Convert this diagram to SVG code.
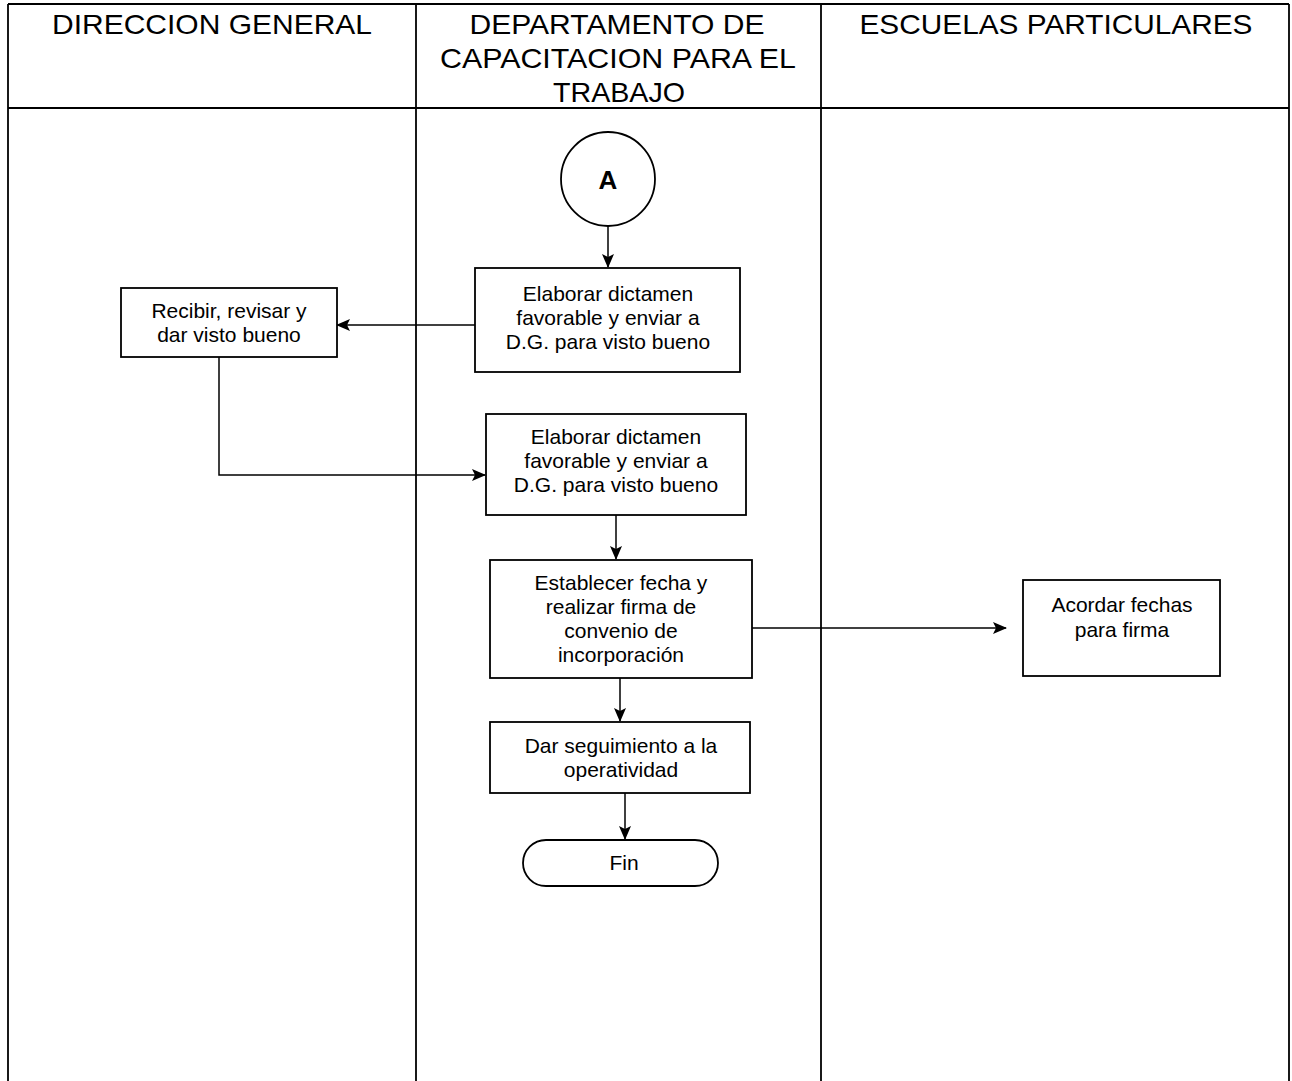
<svg xmlns="http://www.w3.org/2000/svg" width="1292" height="1081" viewBox="0 0 1292 1081">
  <style>
    .lane { stroke: #000; stroke-width: 1.8; fill: none; }
    .hdr { font-family: "Liberation Sans", Arial, sans-serif; font-size: 28px; fill: #000; text-anchor: middle; }
    .box { fill: #fff; stroke: #000; stroke-width: 1.8; }
    .txt { font-family: "Liberation Sans", Arial, sans-serif; font-size: 21px; fill: #000; text-anchor: middle; }
    .conn { stroke: #000; stroke-width: 1.5; fill: none; }
  </style>
  <defs>
    <marker id="arrow" viewBox="0 0 14 12" refX="13" refY="6" markerWidth="14" markerHeight="12" markerUnits="userSpaceOnUse" orient="auto">
      <path d="M0,0 L14,6 L0,12 L3,6 Z" fill="#000"/>
    </marker>
  </defs>
  <rect width="1292" height="1081" fill="#fff"/>

  <!-- swimlane frame -->
  <g id="lanes">
    <line class="lane" x1="8" y1="4" x2="1289" y2="4"/>
    <line class="lane" x1="8" y1="108" x2="1289" y2="108"/>
    <line class="lane" x1="8" y1="4" x2="8" y2="1081"/>
    <line class="lane" x1="416" y1="4" x2="416" y2="1081"/>
    <line class="lane" x1="821" y1="4" x2="821" y2="1081"/>
    <line class="lane" x1="1289" y1="4" x2="1289" y2="1081"/>
    <text class="hdr" x="212" y="34" textLength="320" lengthAdjust="spacingAndGlyphs">DIRECCION GENERAL</text>
    <text class="hdr" x="617" y="34" textLength="295" lengthAdjust="spacingAndGlyphs">DEPARTAMENTO DE</text>
    <text class="hdr" x="618" y="68" textLength="356" lengthAdjust="spacingAndGlyphs">CAPACITACION PARA EL</text>
    <text class="hdr" x="619" y="102" textLength="132" lengthAdjust="spacingAndGlyphs">TRABAJO</text>
    <text class="hdr" x="1056" y="34" textLength="393" lengthAdjust="spacingAndGlyphs">ESCUELAS PARTICULARES</text>
  </g>

  <!-- connectors -->
  <g id="connectors">
    <line class="conn" x1="608" y1="226" x2="608" y2="267" marker-end="url(#arrow)"/>
    <line class="conn" x1="475" y1="325" x2="337" y2="325" marker-end="url(#arrow)"/>
    <polyline class="conn" points="219,357 219,475 485,475" marker-end="url(#arrow)"/>
    <line class="conn" x1="616" y1="515" x2="616" y2="559" marker-end="url(#arrow)"/>
    <line class="conn" x1="752" y1="628" x2="1006" y2="628" marker-end="url(#arrow)"/>
    <line class="conn" x1="620" y1="678" x2="620" y2="721" marker-end="url(#arrow)"/>
    <line class="conn" x1="625" y1="793" x2="625" y2="839" marker-end="url(#arrow)"/>
  </g>

  <g id="connector-A">
    <circle cx="608" cy="179" r="47" class="box"/>
    <text x="608" y="189" font-family="Liberation Sans, Arial, sans-serif" font-size="26" font-weight="bold" text-anchor="middle">A</text>
  </g>

  <g id="elaborar-1">
    <rect class="box" x="475" y="268" width="265" height="104"/>
    <text class="txt" x="608" y="301">Elaborar dictamen</text>
    <text class="txt" x="608" y="325">favorable y enviar a</text>
    <text class="txt" x="608" y="349">D.G. para visto bueno</text>
  </g>

  <g id="recibir">
    <rect class="box" x="121" y="288" width="216" height="69"/>
    <text class="txt" x="229" y="318">Recibir, revisar y</text>
    <text class="txt" x="229" y="342">dar visto bueno</text>
  </g>

  <g id="elaborar-2">
    <rect class="box" x="486" y="414" width="260" height="101"/>
    <text class="txt" x="616" y="444">Elaborar dictamen</text>
    <text class="txt" x="616" y="468">favorable y enviar a</text>
    <text class="txt" x="616" y="492">D.G. para visto bueno</text>
  </g>

  <g id="establecer">
    <rect class="box" x="490" y="560" width="262" height="118"/>
    <text class="txt" x="621" y="590">Establecer fecha y</text>
    <text class="txt" x="621" y="614">realizar firma de</text>
    <text class="txt" x="621" y="638">convenio de</text>
    <text class="txt" x="621" y="662">incorporación</text>
  </g>

  <g id="acordar">
    <rect class="box" x="1023" y="580" width="197" height="96"/>
    <text class="txt" x="1122" y="612">Acordar fechas</text>
    <text class="txt" x="1122" y="637">para firma</text>
  </g>

  <g id="seguimiento">
    <rect class="box" x="490" y="722" width="260" height="71"/>
    <text class="txt" x="621" y="753">Dar seguimiento a la</text>
    <text class="txt" x="621" y="777">operatividad</text>
  </g>

  <g id="fin">
    <rect class="box" x="523" y="840" width="195" height="46" rx="23" ry="23"/>
    <text class="txt" x="624" y="870">Fin</text>
  </g>
</svg>
